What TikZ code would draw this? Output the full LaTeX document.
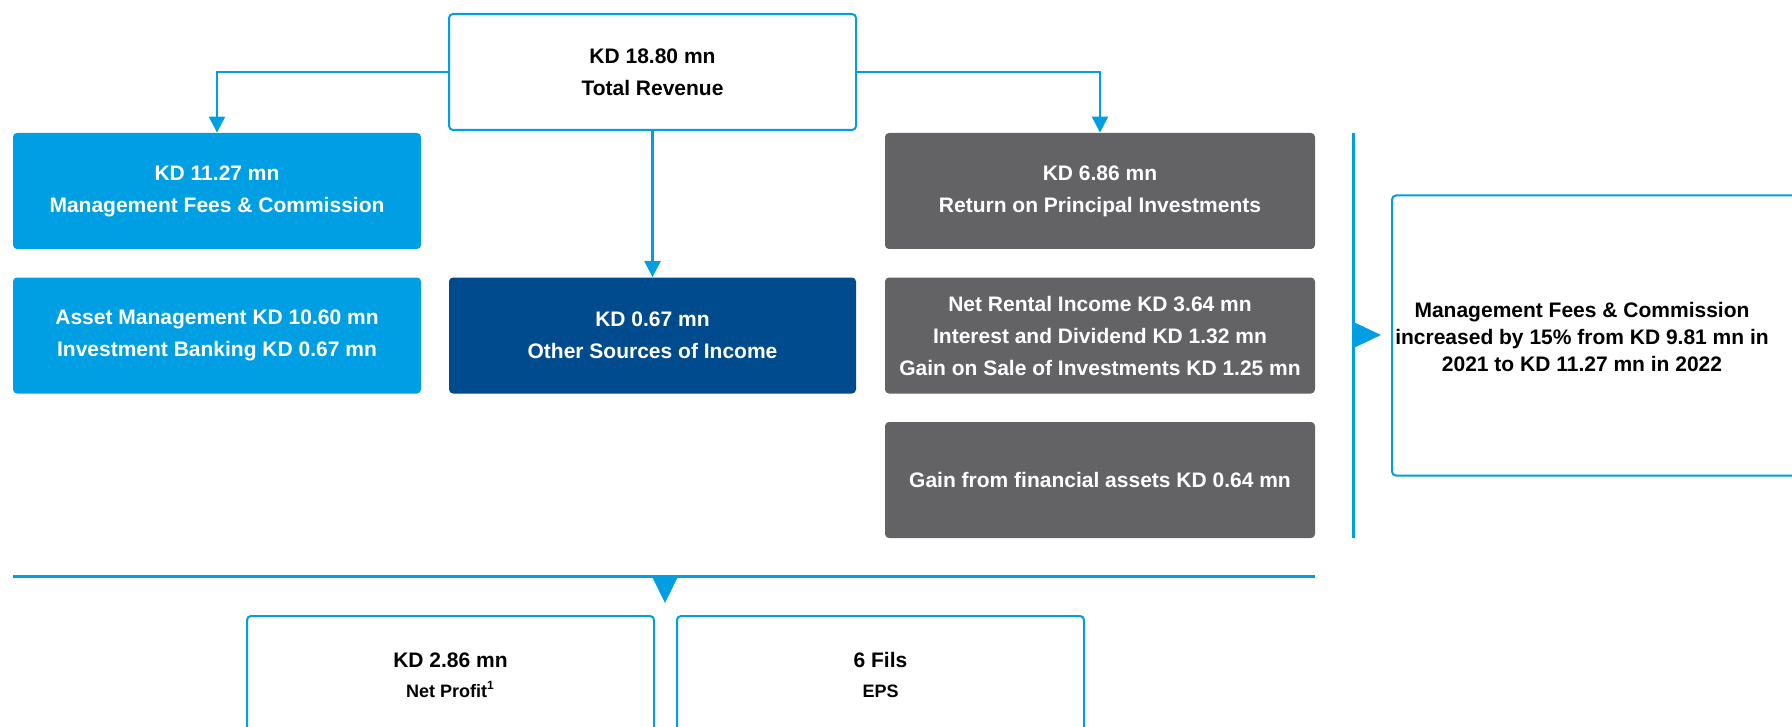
\documentclass[tikz,border=0pt]{standalone}
\usepackage{fontspec}
\setmainfont{Liberation Sans}
\usetikzlibrary{arrows.meta, positioning}
\definecolor{kfhBlue}{RGB}{0,159,227}
\definecolor{kfhNavy}{RGB}{0,75,141}
\definecolor{kfhGrey}{RGB}{99,99,102}
\tikzset{
    boxText/.style={font=\bfseries\fontsize{10.5}{16}\selectfont, align=center},
    baseBox/.style={rectangle, rounded corners=2pt, inner sep=0pt, boxText},
    outBox/.style={baseBox, draw=kfhBlue, line width=1pt, fill=white, text=black},
    feeBox/.style={baseBox, fill=kfhBlue, text=white, minimum width=204pt, minimum height=58pt},
    otherBox/.style={baseBox, fill=kfhNavy, text=white, minimum width=203.5pt, minimum height=58pt},
    invBox/.style={baseBox, fill=kfhGrey, text=white, minimum width=215pt, minimum height=58pt},
    flowLine/.style={draw=kfhBlue, line width=1.2pt},
    marker/.style={fill=kfhBlue}
}
\begin{document}
\begin{tikzpicture}[x=0.5pt, y=-0.5pt, >={Triangle[length=8pt, width=8pt]}]

    % --- Frame ---
    \useasboundingbox (0,0) rectangle (1792,727);
    \clip (0,0) rectangle (1792,727);

    % --- Total revenue ---
    \node[outBox, minimum width=203.5pt, minimum height=58pt] (rev) at (652.5,72)
        {KD 18.80 mn\\Total Revenue};

    % --- Left column ---
    \node[feeBox] (fee) at (217,191) {KD 11.27 mn\\Management Fees \& Commission};
    \node[feeBox] (feeSplit) at (217,335.5)
        {Asset Management KD 10.60 mn\\Investment Banking KD 0.67 mn};

    % --- Middle column ---
    \node[otherBox] (other) at (652.5,335.5) {KD 0.67 mn\\Other Sources of Income};

    % --- Right column ---
    \node[invBox] (ret) at (1100,191) {KD 6.86 mn\\Return on Principal Investments};
    \node[invBox] (retSplit) at (1100,335.5)
        {Net Rental Income KD 3.64 mn\\Interest and Dividend KD 1.32 mn\\Gain on Sale of Investments KD 1.25 mn};
    \node[invBox] (gain) at (1100,480) {Gain from financial assets KD 0.64 mn};

    % --- Connectors ---
    \draw[flowLine, ->] (rev.west) -| (fee.north);
    \draw[flowLine, ->] (rev.east) -| (ret.north);
    \draw[flowLine, ->] (rev.south) -- (other.north);

    % --- Divider and note ---
    \coordinate (divTop) at (1353.5,133);
    \coordinate (divBot) at (1353.5,538);
    \draw[flowLine] (divTop) -- (divBot);
    \fill[marker] (1353.5,322) -- (1381,335) -- (1353.5,348) -- cycle;

    \node[outBox, minimum width=220pt, minimum height=140pt, anchor=west] (note) at (1391,335.5) {};
    \node[boxText, font=\bfseries\fontsize{10.5}{13.5}\selectfont] (noteText) at (1582,337)
        {Management Fees \& Commission\\increased by 15\% from KD 9.81 mn in\\2021 to KD 11.27 mn in 2022};

    % --- Results ---
    \coordinate (resLeft) at (13,576.5);
    \coordinate (resRight) at (1315,576.5);
    \draw[flowLine, line width=1.4pt] (resLeft) -- (resRight);
    \fill[marker] (652,576.5) -- (678,576.5) -- (665,603) -- cycle;

    \node[outBox, minimum width=203.5pt, minimum height=59pt, anchor=north west] (profit) at (246,615)
        {KD 2.86 mn\\[-1pt]{\fontsize{9}{11}\selectfont Net Profit\textsuperscript{1}}};
    \node[outBox, minimum width=203.5pt, minimum height=59pt, anchor=north west] (eps) at (676,615)
        {6 Fils\\[-1pt]{\fontsize{9}{11}\selectfont EPS}};

\end{tikzpicture}
\end{document}
